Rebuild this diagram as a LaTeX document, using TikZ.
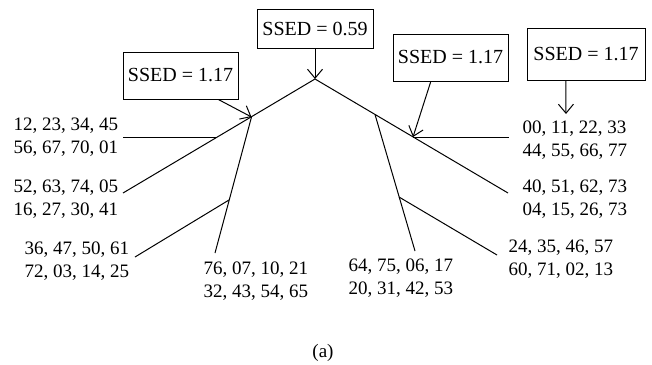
\documentclass[tikz,border=0pt]{standalone}
\usepackage{fontspec}
\setmainfont{Liberation Serif}
\usetikzlibrary{arrows.meta,calc}
\begin{document}
\begin{tikzpicture}[x=1pt,y=-1pt,line width=1pt,
 box/.style={draw,line width=0.9pt,inner sep=0pt,font=\fontsize{20}{23}\selectfont},
 lbl/.style={inner sep=0pt,anchor=base west,align=left,font=\fontsize{19}{23}\selectfont},
 arr/.style={-{Straight Barb[length=9pt,width=15pt]}}]
\useasboundingbox (0,0) rectangle (652,364);
% boxes
\node[box,minimum width=116pt,minimum height=39pt] (b0) at (315,28.5) {SSED = 0.59};
\node[box,minimum width=115pt,minimum height=47pt] (bL) at (180.5,75.5) {SSED = 1.17};
\node[box,minimum width=115pt,minimum height=47pt] (bM) at (450.5,57.5) {SSED = 1.17};
\node[box,minimum width=118pt,minimum height=52pt] (bR) at (586,54) {SSED = 1.17};
% junctions and free ends
\coordinate (apex) at (315,79);
\coordinate (eL) at (123,193);
\coordinate (eR) at (508,193);
\coordinate (hL) at (123,137);
\coordinate (jH1) at (217.3,137);
\coordinate (jL) at (251.5,117);
\coordinate (sL) at (215,253);
\coordinate (jL2) at (229,200);
\coordinate (eL3) at (135,257);
\coordinate (jH2) at (413,137);
\coordinate (hR) at (509,137);
\coordinate (jR) at (375,114.5);
\coordinate (sR) at (415,251);
\coordinate (jR2) at (399,197);
\coordinate (eR3) at (497,255);
\coordinate (tR) at (566,114);
% tree
\draw (eL) -- (apex) -- (eR);
\draw (hL) -- (jH1);
\draw (jL) -- (sL);
\draw (jL2) -- (eL3);
\draw (jH2) -- (hR);
\draw (jR) -- (sR);
\draw (jR2) -- (eR3);
% arrows
\draw[arr] (b0.south) -- (apex);
\draw[arr] ($(bL.south west)!0.826!(bL.south east)$) -- (jL);
\draw[arr] ($(bM.south west)!0.33!(bM.south east)$) -- (jH2);
\draw[arr] ($(bR.south west)!0.33!(bR.south east)$) -- (tR);
% labels (anchor at baseline of second line)
\node[lbl] (t1) at (13,153) {12, 23, 34, 45\\56, 67, 70, 01};
\node[lbl] (t2) at (13,215) {52, 63, 74, 05\\16, 27, 30, 41};
\node[lbl] (t3) at (24,277) {36, 47, 50, 61\\72, 03, 14, 25};
\node[lbl] (t4) at (203,297) {76, 07, 10, 21\\32, 43, 54, 65};
\node[lbl] (t5) at (348,294) {64, 75, 06, 17\\20, 31, 42, 53};
\node[lbl] (t6) at (508,275) {24, 35, 46, 57\\60, 71, 02, 13};
\node[lbl] (t7) at (522,215) {40, 51, 62, 73\\04, 15, 26, 73};
\node[lbl] (t8) at (522,156) {00, 11, 22, 33\\44, 55, 66, 77};
\node[inner sep=0pt,anchor=base,font=\fontsize{19}{23}\selectfont] (cap) at (323,357) {(a)};
\end{tikzpicture}
\end{document}
